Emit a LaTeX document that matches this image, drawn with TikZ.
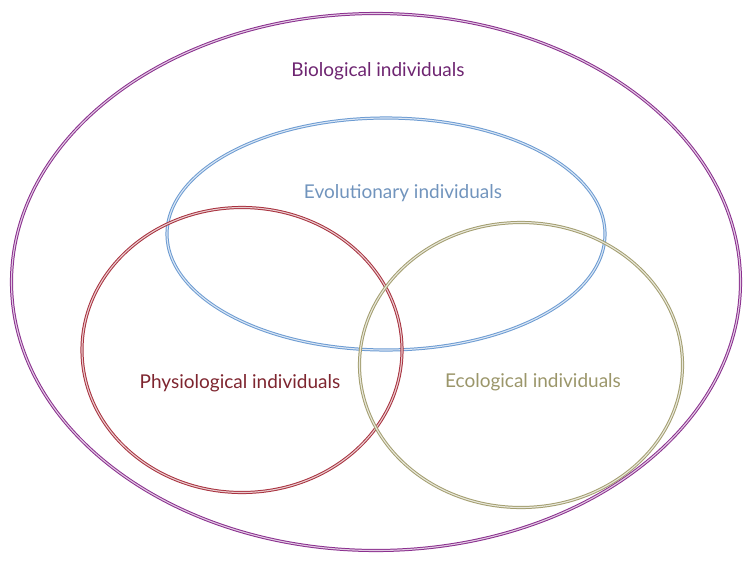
\documentclass[tikz,border=0pt]{standalone}
\usepackage{fontspec}
\setmainfont{Lato}
\usetikzlibrary{shapes.geometric}
\definecolor{biopurple}{HTML}{8A2F8E}
\definecolor{evoblue}{HTML}{6C9BD2}
\definecolor{physred}{HTML}{A8323F}
\definecolor{ecoolive}{HTML}{A39E70}
\begin{document}
\begin{tikzpicture}
		[x=1pt, y=-1pt,
		set/.style={ellipse, inner sep=0pt, line width=1pt, double distance=1.1pt},
		caption/.style={font=\fontsize{19}{22}\selectfont, inner sep=0pt}]
		\useasboundingbox (0,0) rectangle (745,563);
		\node [set, draw=biopurple, double=biopurple!25, minimum width=729pt, minimum height=537pt] (bio) at (376,282) {};
		\node [set, draw=evoblue, double=evoblue!25, minimum width=438pt, minimum height=232pt] (evo) at (386,234) {};
		\node [set, draw=physred, double=physred!25, minimum width=320pt, minimum height=285pt] (phys) at (242,350) {};
		\node [set, draw=ecoolive, double=ecoolive!25, minimum width=323pt, minimum height=285pt] (eco) at (521,365) {};

		\node [caption, text=biopurple!80!black] (biotext) at (378,71) {Biological individuals};
		\node [caption, text=evoblue!75!gray] (evotext) at (403,193) {Evolutionary individuals};
		\node [caption, text=physred!75!black] (phystext) at (240,383) {Physiological individuals};
		\node [caption, text=ecoolive!95!black] (ecotext) at (533,382) {Ecological individuals};
	\end{tikzpicture}
\end{document}
